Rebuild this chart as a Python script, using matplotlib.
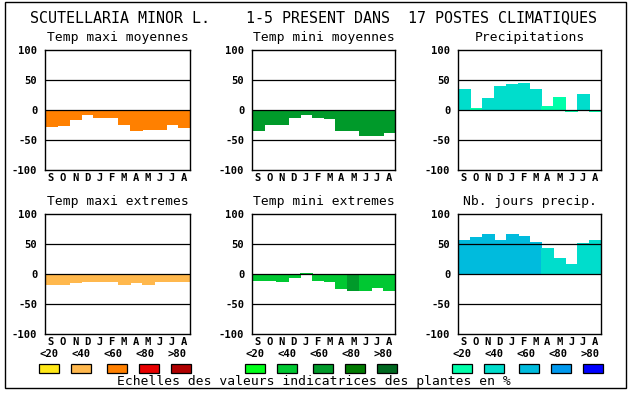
import matplotlib
matplotlib.use("Agg")
import matplotlib.pyplot as plt
from matplotlib.patches import Rectangle

# ---------- données ----------
months = ['S', 'O', 'N', 'D', 'J', 'F', 'M', 'A', 'M', 'J', 'J', 'A']

tmax_moy = [-26, -25, -15, -6, -11, -11, -23, -33, -32, -32, -24, -28]
tmin_moy = [-33, -23, -23, -11, -7, -11, -14, -33, -33, -41, -41, -36]
precip = [35, 3, 20, 40, 43, 45, 35, 7, 22, -2, 27, -2]
tmax_ext = [-17, -17, -14, -12, -11, -12, -17, -14, -16, -11, -12, -11]
tmin_ext = [-10, -10, -12, -5, 2, -10, -12, -24, -27, -26, -22, -27]
nb_jours = [57, 61, 66, 57, 67, 64, 54, 44, 27, 16, 52, 57]

# classe de couleur (0:<20 ... 4:>80)
tmax_moy_cls = [2] * 12
tmin_moy_cls = [2] * 12
precip_cls = [1, 0, 1, 1, 1, 1, 1, 0, 0, 0, 1, 0]
tmax_ext_cls = [1] * 12
tmin_ext_cls = [1, 1, 1, 1, 1, 1, 1, 1, 2, 1, 1, 1]
nb_jours_cls = [2, 2, 2, 2, 2, 2, 2, 1, 1, 1, 1, 1]

warm = ['#FFE818', '#FFB84D', '#FF8000', '#E80000', '#B00000']
green = ['#00FF1A', '#00C832', '#009A2A', '#007A00', '#006820']
blue = ['#00FFAA', '#00DDCC', '#00BBDD', '#0099EE', '#0000FF']

scale_labels = ['<20', '<40', '<60', '<80', '>80']
yticks = [-100, -50, 0, 50, 100]

title = "SCUTELLARIA MINOR L.    1-5 PRESENT DANS  17 POSTES CLIMATIQUES"
footer = "Echelles des valeurs indicatrices des plantes en %"

MONO = 'DejaVu Sans Mono'
W, H = 630, 394

fig = plt.figure(figsize=(W / 100, H / 100), dpi=100)


def px(x, y):
    return x / W, 1 - y / H


def panel(x0, x1, y0, y1, name, values, cls, pal):
    ax = fig.add_axes([x0 / W, 1 - y1 / H, (x1 - x0) / W, (y1 - y0) / H])
    xs = range(len(values))
    cs = [pal[c] for c in cls]
    # pas d'anticrénelage : sinon liserés blancs entre les barres
    ax.bar(xs, values, width=1.0, color=cs, edgecolor=cs, linewidth=0.4,
           antialiased=False, zorder=1)
    for g in (50, 0, -50):
        ax.axhline(g, color='black', lw=0.9, zorder=3)
    ax.set_xlim(-0.5, len(values) - 0.5)
    ax.set_ylim(-100, 100)
    ax.set_yticks(yticks)
    ax.set_yticklabels([str(v) for v in yticks], fontfamily=MONO,
                       fontweight='bold', fontsize=7.6)
    ax.set_xticks(list(xs))
    ax.set_xticklabels(months, fontfamily=MONO, fontweight='bold', fontsize=7.6)
    ax.tick_params(axis='y', length=0, pad=5.5)
    ax.tick_params(axis='x', length=0, pad=2)
    for s in ax.spines.values():
        s.set_linewidth(1.0)
        s.set_zorder(4)
    cx = (x0 + x1) / 2
    fig.text(*px(cx, y0 - 12), name, ha='center', va='center',
             fontfamily=MONO, fontsize=9.4)
    return ax


cols = [(45, 190), (252, 395), (458, 601)]
rows = [(50, 170), (214, 334)]

panel(*cols[0], *rows[0], "Temp maxi moyennes", tmax_moy, tmax_moy_cls, warm)
panel(*cols[1], *rows[0], "Temp mini moyennes", tmin_moy, tmin_moy_cls, green)
panel(*cols[2], *rows[0], "Precipitations", precip, precip_cls, blue)
panel(*cols[0], *rows[1], "Temp maxi extremes", tmax_ext, tmax_ext_cls, warm)
panel(*cols[1], *rows[1], "Temp mini extremes", tmin_ext, tmin_ext_cls, green)
panel(*cols[2], *rows[1], "Nb. jours precip.", nb_jours, nb_jours_cls, blue)

# titre
fig.text(*px(30, 18), title, ha='left', va='center', fontfamily=MONO, fontsize=10.8)

# ---------- échelles ----------
box_x = [[39, 71, 107, 139, 171], [245, 277, 313, 345, 377], [452, 484, 519, 551, 583]]
lab_x = [[49, 81, 113, 145, 177], [255, 287, 319, 351, 383], [462, 494, 526, 558, 590]]
for pal, bxs, lxs in zip([warm, green, blue], box_x, lab_x):
    for col, bx, lx, lab in zip(pal, bxs, lxs, scale_labels):
        x, y = px(bx, 373)
        fig.add_artist(Rectangle((x, y), 20 / W, 9 / H, transform=fig.transFigure,
                                 facecolor=col, edgecolor='black', lw=0.9))
        fig.text(*px(lx, 354), lab, ha='center', va='center',
                 fontfamily=MONO, fontweight='bold', fontsize=7.6)

fig.text(*px(314, 382), footer, ha='center', va='center', fontfamily=MONO, fontsize=9.4)

# cadre
x, y = px(5, 388)
fig.add_artist(Rectangle((x, y), 621 / W, 386 / H, transform=fig.transFigure,
                         facecolor='none', edgecolor='black', lw=1.0))

fig.savefig("out.png", dpi=100)
